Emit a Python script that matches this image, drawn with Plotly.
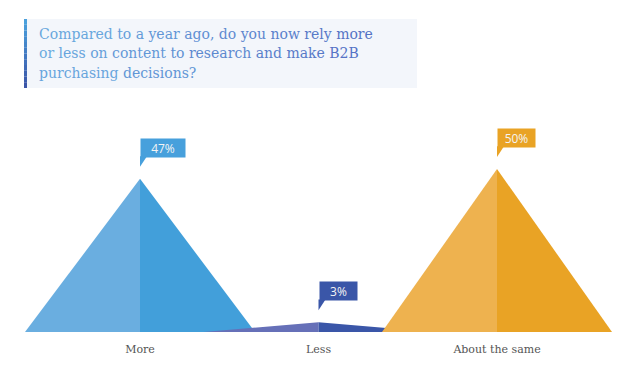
import plotly.graph_objects as go

# ---- data ----
categories = ["More", "Less", "About the same"]
values = [47, 3, 50]
value_labels = ["47%", "3%", "50%"]
left_colors = ["#6aaee0", "#6670b8", "#eeb24f"]
right_colors = ["#429fda", "#3a56a8", "#e9a325"]
callout_colors = ["#47a0dc", "#3a56a8", "#e9a325"]
title_lines = [
    "Compared to a year ago, do you now rely more",
    "or less on content to research and make B2B",
    "purchasing decisions?",
]

# ---- layout constants (pixels, in page coordinates) ----
OFF = 8                # page body margin
W, H = 636 - OFF, 377 - OFF
BASE_PX = 332 - OFF    # y pixel of bar base inside figure
PX_PER_UNIT_Y = 3.26   # pixels per percent
PX_PER_CAT = 178.5     # pixels between category centres
FIRST_CAT_PX = 140 - OFF
HALF_W = 115 / PX_PER_CAT

x_range = [-FIRST_CAT_PX / PX_PER_CAT, (W - FIRST_CAT_PX) / PX_PER_CAT]
y_range = [0, BASE_PX / PX_PER_UNIT_Y]

fig = go.Figure()

for i, v in enumerate(values):
    fig.add_trace(go.Scatter(
        x=[i - HALF_W, i, i, i - HALF_W], y=[0, v, 0, 0],
        fill="toself", fillcolor=left_colors[i], mode="lines",
        line=dict(width=0, color=left_colors[i]), hoverinfo="skip", showlegend=False))
    fig.add_trace(go.Scatter(
        x=[i, i + HALF_W, i, i], y=[0, 0, v, 0],
        fill="toself", fillcolor=right_colors[i], mode="lines",
        line=dict(width=0, color=right_colors[i]), hoverinfo="skip", showlegend=False))

# callout tails + boxes
tail_tip = 12 / PX_PER_UNIT_Y
box_bottom = 21 / PX_PER_UNIT_Y
tail_w = 7 / PX_PER_CAT
box_widths = [40, 33, 33]
for i, v in enumerate(values):
    fig.add_trace(go.Scatter(
        x=[i, i, i + tail_w, i], y=[v + tail_tip, v + box_bottom + 0.5, v + box_bottom + 0.5, v + tail_tip],
        fill="toself", fillcolor=callout_colors[i], mode="lines",
        line=dict(width=0, color=callout_colors[i]), hoverinfo="skip", showlegend=False))
    fig.add_annotation(
        x=i, y=v + box_bottom, xref="x", yref="y", xanchor="left", yanchor="bottom",
        text=value_labels[i], showarrow=False, bgcolor=callout_colors[i],
        font=dict(family="Open Sans", size=12, color="#f4f4f4"),
        width=box_widths[i], height=14, borderpad=2, align="center")


def px_x(p):
    return (p - OFF) / W


def px_y(p):
    return (BASE_PX - (p - OFF)) / BASE_PX


shapes = [dict(type="rect", xref="paper", yref="paper",
               x0=px_x(24), x1=px_x(417), y0=px_y(88), y1=px_y(19),
               fillcolor="#f3f6fb", line=dict(width=0), layer="below")]
n_seg = 12
c_top = (74, 160, 220)
c_bot = (58, 85, 168)
for k in range(n_seg):
    t = k / (n_seg - 1)
    col = "rgb(%d,%d,%d)" % tuple(round(a + (b - a) * t) for a, b in zip(c_top, c_bot))
    y0p = 19 + (88 - 19) * k / n_seg
    y1p = 19 + (88 - 19) * (k + 1) / n_seg
    shapes.append(dict(type="rect", xref="paper", yref="paper",
                       x0=px_x(24), x1=px_x(27), y0=px_y(y1p), y1=px_y(y0p),
                       fillcolor=col, line=dict(width=0)))

# title text, horizontal gradient per word, one annotation per line
c_l = (106, 172, 224)
c_r = (84, 112, 196)
ref_len = len(title_lines[0])
line_centers = [34, 53.5, 73]
for line, yc in zip(title_lines, line_centers):
    pos = 0
    parts = []
    for w in line.split(" "):
        t = min(1.0, (pos + len(w) / 2) / ref_len)
        col = "rgb(%d,%d,%d)" % tuple(round(a + (b - a) * t) for a, b in zip(c_l, c_r))
        parts.append("<span style='color:%s'>%s</span>" % (col, w))
        pos += len(w) + 1
    fig.add_annotation(
        xref="paper", yref="paper", x=px_x(38), y=px_y(yc), xanchor="left", yanchor="middle",
        text=" ".join(parts), showarrow=False, align="left", borderpad=0,
        font=dict(family="DejaVu Serif", size=14, color="#5a8fd4"))

fig.update_layout(
    width=W, height=H,
    margin=dict(l=0, r=0, t=0, b=H - BASE_PX),
    paper_bgcolor="white", plot_bgcolor="white",
    shapes=shapes,
    xaxis=dict(range=x_range, tickvals=list(range(len(categories))), ticktext=categories,
               showgrid=False, zeroline=False, showline=False,
               ticks="outside", ticklen=7, tickcolor="rgba(0,0,0,0)",
               tickfont=dict(family="DejaVu Serif", size=11, color="#555555"), fixedrange=True),
    yaxis=dict(range=y_range, visible=False, fixedrange=True),
    showlegend=False,
)

fig.write_html("out.html")
